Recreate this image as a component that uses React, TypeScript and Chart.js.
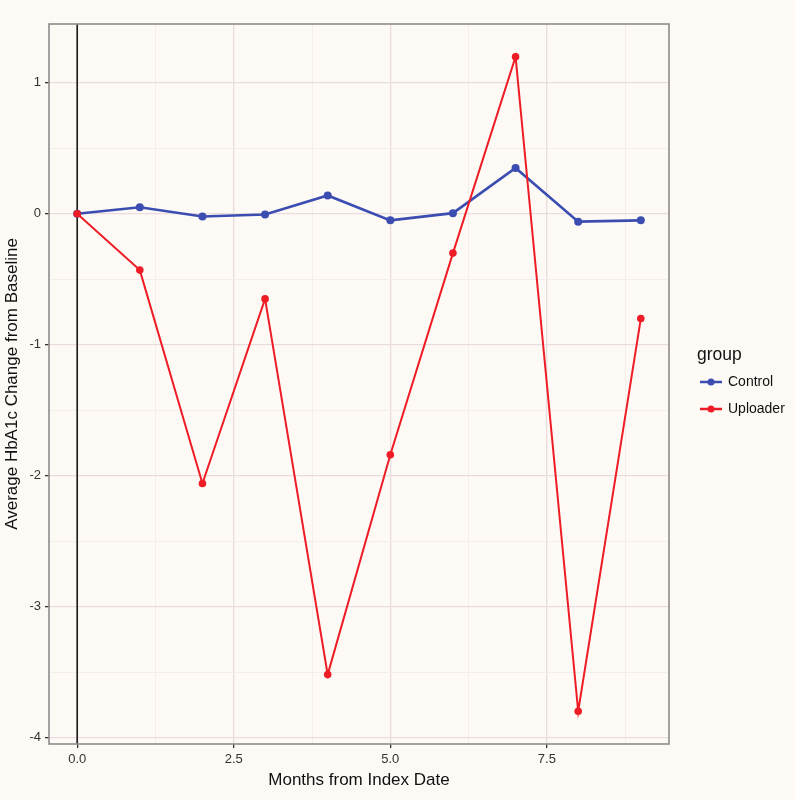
import React, { useEffect, useRef } from "react";
import { Chart, registerables } from "chart.js";

Chart.register(...registerables);

const months = [0, 1, 2, 3, 4, 5, 6, 7, 8, 9];
const controlValues = [0, 0.05, -0.02, -0.005, 0.14, -0.05, 0.005, 0.35, -0.06, -0.05];
const uploaderValues = [0, -0.43, -2.06, -0.65, -3.52, -1.84, -0.3, 1.2, -3.8, -0.8];
const seriesNames = ["Control", "Uploader"];
const seriesColors = ["#3b4db0", "#ee1c25"];
const xMajorTicks = [0, 2.5, 5, 7.5];
const xMinorTicks = [1.25, 3.75, 6.25, 8.75];
const yMajorTicks = [-4, -3, -2, -1, 0, 1];
const yMinorTicks = [-3.5, -2.5, -1.5, -0.5, 0.5];
const legendTitle = "group";
const xTitle = "Months from Index Date";
const yTitle = "Average HbA1c Change from Baseline";

const BG = "#fdfaf6";
const FONT = "'Liberation Sans', Arial, Helvetica, sans-serif";

const isMajor = (v: number, majors: number[]) => majors.some((m) => Math.abs(m - v) < 1e-9);

const decorPlugin = {
  id: "decor",
  beforeDraw(chart: any) {
    const ctx = chart.ctx;
    ctx.save();
    ctx.fillStyle = BG;
    ctx.fillRect(0, 0, chart.width, chart.height);
    ctx.restore();
  },
  beforeDatasetsDraw(chart: any) {
    const { ctx, chartArea, scales } = chart;
    const x0 = scales.x.getPixelForValue(0);
    ctx.save();
    ctx.strokeStyle = "#1a1a1a";
    ctx.lineWidth = 1.6;
    ctx.beginPath();
    ctx.moveTo(x0, chartArea.top);
    ctx.lineTo(x0, chartArea.bottom);
    ctx.stroke();
    ctx.restore();
  },
  afterDatasetsDraw(chart: any) {
    const { ctx, chartArea } = chart;
    ctx.save();
    ctx.strokeStyle = "#8c8c8c";
    ctx.lineWidth = 1.6;
    ctx.strokeRect(chartArea.left, chartArea.top, chartArea.right - chartArea.left, chartArea.bottom - chartArea.top);
    ctx.restore();
  },
  afterDraw(chart: any) {
    const { ctx } = chart;
    const lx = 697;
    ctx.save();
    ctx.fillStyle = "#111";
    ctx.textBaseline = "middle";
    ctx.textAlign = "left";
    ctx.font = `17.5px ${FONT}`;
    ctx.fillText(legendTitle, lx, 355);
    chart.data.datasets.forEach((ds: any, i: number) => {
      const y = 382 + i * 27;
      ctx.strokeStyle = ds.borderColor;
      ctx.lineWidth = 2.5;
      ctx.beginPath();
      ctx.moveTo(700, y);
      ctx.lineTo(722, y);
      ctx.stroke();
      ctx.fillStyle = ds.borderColor;
      ctx.beginPath();
      ctx.arc(711, y, 3.5, 0, Math.PI * 2);
      ctx.fill();
      ctx.fillStyle = "#111";
      ctx.font = `14px ${FONT}`;
      ctx.fillText(ds.label, 728, y);
    });
    ctx.restore();
  },
};

export default function App() {
  const ref = useRef<HTMLCanvasElement | null>(null);
  useEffect(() => {
    document.body.style.margin = "0";
    document.body.style.background = BG;
    const canvas = ref.current!;
    const mk = (vals: number[]) => months.map((m, i) => ({ x: m, y: vals[i] }));
    const chart = new Chart(canvas, {
      type: "line",
      data: {
        datasets: [
          {
            label: seriesNames[0],
            data: mk(controlValues),
            borderColor: seriesColors[0],
            backgroundColor: seriesColors[0],
            borderWidth: 2.6,
            pointRadius: 4,
            pointHoverRadius: 4,
            pointBorderWidth: 0,
            order: 2,
          },
          {
            label: seriesNames[1],
            data: mk(uploaderValues),
            borderColor: seriesColors[1],
            backgroundColor: seriesColors[1],
            borderWidth: 2,
            pointRadius: 3.8,
            pointHoverRadius: 3.8,
            pointBorderWidth: 0,
            order: 1,
          },
        ],
      },
      options: {
        responsive: false,
        animation: false,
        layout: { padding: { top: 24, right: 126, left: 0, bottom: 0 } },
        plugins: { legend: { display: false }, tooltip: { enabled: false } },
        scales: {
          x: {
            type: "linear",
            min: -0.45,
            max: 9.45,
            afterBuildTicks: (s: any) => {
              s.ticks = [...xMajorTicks, ...xMinorTicks].sort((a, b) => a - b).map((v) => ({ value: v }));
            },
            afterFit: (s: any) => {
              s.height = 56;
            },
            border: { display: false },
            grid: {
              color: (c: any) => (isMajor(c.tick?.value, xMajorTicks) ? "#eadcdd" : "#f5ecec"),
              lineWidth: (c: any) => (isMajor(c.tick?.value, xMajorTicks) ? 1.3 : 1),
              tickColor: (c: any) => (isMajor(c.tick?.value, xMajorTicks) ? "#333" : "rgba(0,0,0,0)"),
              tickLength: 4,
              tickWidth: 1.3,
            },
            ticks: {
              autoSkip: false,
              maxRotation: 0,
              padding: 4,
              color: "#333",
              font: { family: FONT, size: 13 },
              callback: (v: any) => (isMajor(Number(v), xMajorTicks) ? Number(v).toFixed(1) : ""),
            },
            title: {
              display: true,
              text: xTitle,
              color: "#111",
              font: { family: FONT, size: 17 },
              padding: { top: 0, bottom: 9 },
            },
          },
          y: {
            type: "linear",
            min: -4.05,
            max: 1.45,
            afterBuildTicks: (s: any) => {
              s.ticks = [...yMajorTicks, ...yMinorTicks].sort((a, b) => a - b).map((v) => ({ value: v }));
            },
            afterFit: (s: any) => {
              s.width = 49;
            },
            border: { display: false },
            grid: {
              color: (c: any) => (isMajor(c.tick?.value, yMajorTicks) ? "#eadcdd" : "#f5ecec"),
              lineWidth: (c: any) => (isMajor(c.tick?.value, yMajorTicks) ? 1.3 : 1),
              tickColor: (c: any) => (isMajor(c.tick?.value, yMajorTicks) ? "#333" : "rgba(0,0,0,0)"),
              tickLength: 4,
              tickWidth: 1.3,
            },
            ticks: {
              autoSkip: false,
              padding: 4,
              color: "#333",
              font: { family: FONT, size: 13 },
              callback: (v: any) => (isMajor(Number(v), yMajorTicks) ? String(Number(v)) : ""),
            },
            title: {
              display: true,
              text: yTitle,
              color: "#111",
              font: { family: FONT, size: 17 },
              padding: { top: 2, bottom: 2 },
            },
          },
        },
      },
      plugins: [decorPlugin],
    } as any);
    return () => chart.destroy();
  }, []);
  return <canvas ref={ref} width={795} height={800} style={{ display: "block" }} />;
}
